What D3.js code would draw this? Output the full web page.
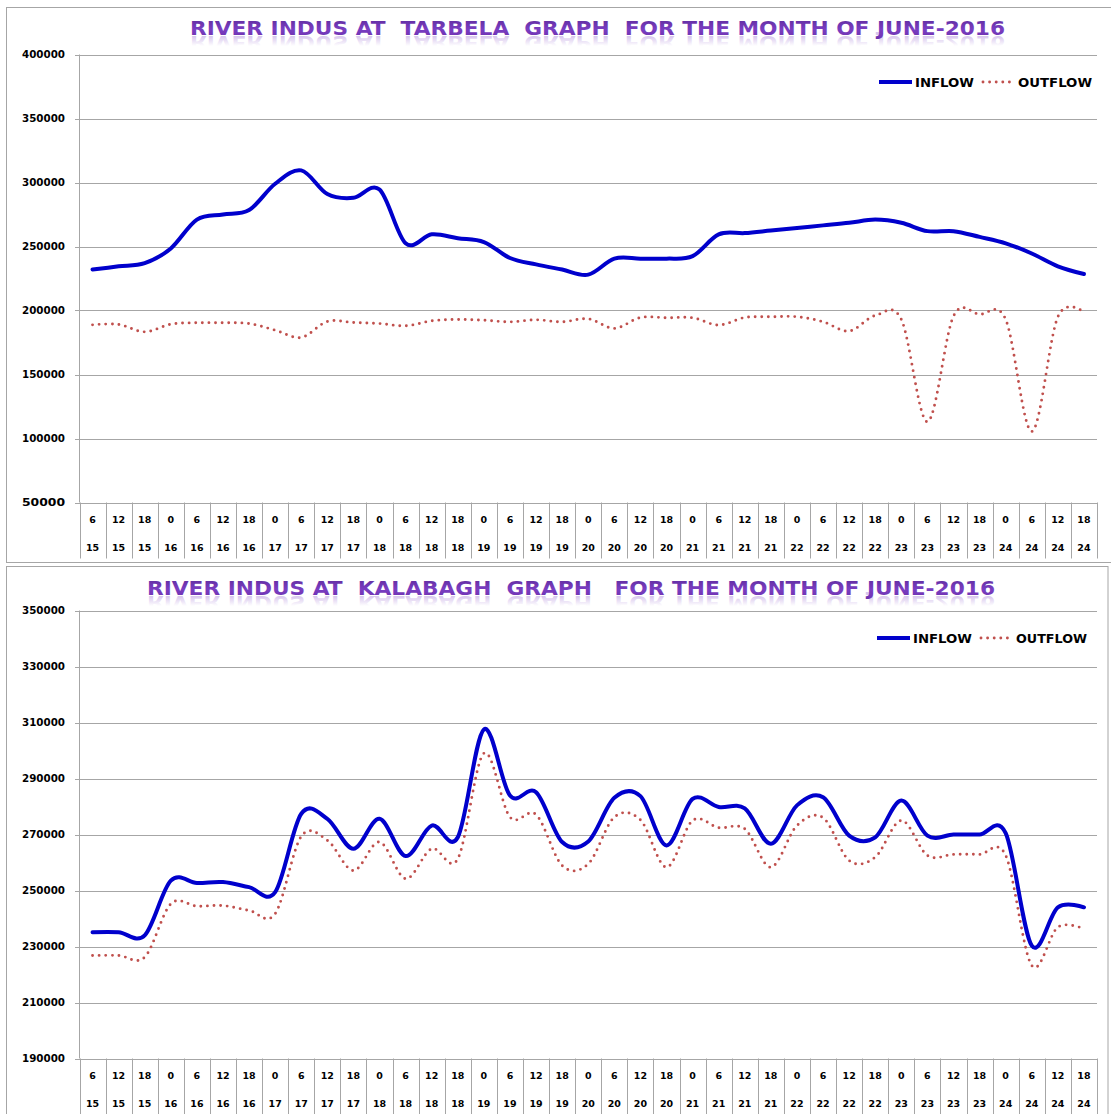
<!DOCTYPE html>
<html>
<head>
<meta charset="utf-8">
<script src="https://d3js.org/d3.v7.min.js"></script>
<style>
    body { margin: 0; background: #ffffff; }
    svg { display: block; }
    text { font-family: "DejaVu Sans", sans-serif; font-weight: bold; }
</style>
</head>
<body>
<div id="chart"></div>
<script>
// x axis labels (hour / day of June 2016)
const hours = [6, 12, 18, 0, 6, 12, 18, 0, 6, 12, 18, 0, 6, 12, 18, 0, 6, 12, 18, 0,
    6, 12, 18, 0, 6, 12, 18, 0, 6, 12, 18, 0, 6, 12, 18, 0, 6, 12, 18];
const days = [15, 15, 15, 16, 16, 16, 16, 17, 17, 17, 17, 18, 18, 18, 18, 19, 19, 19, 19, 20,
    20, 20, 20, 21, 21, 21, 21, 22, 22, 22, 22, 23, 23, 23, 23, 24, 24, 24, 24];

// tarbela (cusecs)
const tarbelaTicks = [50000, 100000, 150000, 200000, 250000, 300000, 350000, 400000];
const tarbelaInflow = [232000, 234500, 237000, 248500, 271000, 275000, 278500, 299000, 309500, 291000,
    288000, 294500, 252500, 259500, 256500, 253500, 241000, 236000, 232000, 228000,
    240500, 240500, 240500, 242500, 259500, 260500, 262500, 264500, 266500, 268500,
    271000, 268500, 262000, 262000, 257500, 252500, 244500, 234500, 228500];
const tarbelaOutflow = [188800, 189100, 183300, 189300, 190400, 190400, 189800, 184600, 178900, 191400,
    190600, 189800, 188000, 191900, 193000, 192400, 191100, 192700, 191100, 193500,
    186000, 194500, 194300, 194300, 188600, 194500, 195100, 195100, 191200, 183900,
    196000, 193000, 113000, 195500, 197000, 193000, 105500, 195000, 198500];

// kalabagh (cusecs)
const kalabaghTicks = [190000, 210000, 230000, 250000, 270000, 290000, 310000, 330000, 350000];
const kalabaghInflow = [235100, 235100, 234000, 253500, 252700, 253000, 251200, 249400, 277400, 275600,
    264900, 275600, 262300, 273200, 269000, 307500, 283900, 285100, 267300, 267500,
    283100, 283700, 266100, 282700, 279800, 279300, 266700, 280400, 283300, 269600,
    269000, 282100, 269600, 270000, 270000, 270500, 230300, 244000, 244000];
const kalabaghOutflow = [226800, 226800, 226200, 245200, 244400, 244600, 242900, 241700, 269300, 267900,
    257100, 267300, 254200, 264900, 261300, 299000, 276200, 277100, 258900, 259500,
    276200, 275200, 258300, 275000, 272400, 272000, 258300, 273200, 276000, 260700,
    261900, 275000, 262500, 262900, 262900, 262500, 223200, 236900, 236300];

const W = 1111, H = 1114;
const svg = d3.select("#chart").append("svg")
    .attr("width", W)
    .attr("height", H);
const defs = svg.append("defs");

const titleGrad = defs.append("linearGradient")
    .attr("id", "titleGrad")
    .attr("x1", 0).attr("y1", 0).attr("x2", 0).attr("y2", 1);
titleGrad.append("stop").attr("offset", "0%").attr("stop-color", "#5a2896");
titleGrad.append("stop").attr("offset", "55%").attr("stop-color", "#7a3ec2");
titleGrad.append("stop").attr("offset", "100%").attr("stop-color", "#6a2eaa");

function drawChart(cfg, idx) {
    const g = svg.append("g");

    // panel border
    g.append("rect")
        .attr("x", cfg.panel[0]).attr("y", cfg.panel[1])
        .attr("width", cfg.panel[2]).attr("height", cfg.panel[3])
        .attr("fill", "#ffffff")
        .attr("stroke", "#a6a6a6")
        .attr("stroke-width", 1);

    const x = d3.scaleBand()
        .domain(d3.range(hours.length))
        .range([79.5, 1097])
        .paddingInner(0);

    const y = d3.scaleLinear()
        .domain(cfg.domain)
        .range(cfg.range);

    // gridlines
    g.selectAll(".grid")
        .data(cfg.ticks)
        .join("line")
        .attr("x1", 75).attr("x2", 1097)
        .attr("y1", d => Math.round(y(d)) + 0.5)
        .attr("y2", d => Math.round(y(d)) + 0.5)
        .attr("stroke", "#a6a6a6")
        .attr("stroke-width", 1);

    // y axis line
    g.append("line")
        .attr("x1", 79.5).attr("x2", 79.5)
        .attr("y1", y(cfg.domain[1])).attr("y2", y(cfg.domain[0]))
        .attr("stroke", "#a6a6a6");

    g.selectAll(".ylab")
        .data(cfg.ticks)
        .join("text")
        .attr("x", 65)
        .attr("y", d => y(d))
        .attr("dy", "0.36em")
        .attr("text-anchor", "end")
        .attr("font-size", 10)
        .attr("textLength", 43)
        .attr("lengthAdjust", "spacingAndGlyphs")
        .attr("fill", "#000")
        .text(d => d3.format("d")(d));

    // category table under the plot
    const axisY = y(cfg.domain[0]);
    const bounds = d3.range(hours.length + 1).map(i => i < hours.length ? x(i) : x(i - 1) + x.bandwidth());
    g.selectAll(".sep")
        .data(bounds)
        .join("line")
        .attr("x1", d => Math.round(d) + 0.5).attr("x2", d => Math.round(d) + 0.5)
        .attr("y1", axisY).attr("y2", axisY + cfg.tableH)
        .attr("stroke", "#a6a6a6");

    const labelRow = function (arr, off) {
        g.selectAll(null)
            .data(arr)
            .join("text")
            .attr("x", (d, i) => x(i) + x.bandwidth() / 2)
            .attr("y", axisY + off)
            .attr("dy", "0.36em")
            .attr("text-anchor", "middle")
            .attr("font-size", 8.5)
            .attr("textLength", d => String(d).length * 6.6)
            .attr("lengthAdjust", "spacingAndGlyphs")
            .attr("fill", "#000")
            .text(d => d);
    };
    labelRow(hours, 17);
    labelRow(days, 45);

    // lines
    const line = d3.line()
        .x((d, i) => x(i) + x.bandwidth() / 2)
        .y(d => y(d))
        .curve(d3.curveCardinal.tension(0));

    g.append("path")
        .datum(cfg.outflow)
        .attr("d", line)
        .attr("fill", "none")
        .attr("stroke", "#c0504d")
        .attr("stroke-width", 2.9)
        .attr("stroke-linecap", "round")
        .attr("stroke-dasharray", "0 6.6");

    g.append("path")
        .datum(cfg.inflow)
        .attr("d", line)
        .attr("fill", "none")
        .attr("stroke", "#0000cc")
        .attr("stroke-width", 4)
        .attr("stroke-linecap", "round")
        .attr("stroke-linejoin", "round");

    // title, with a faded mirror copy below it
    const tb = cfg.title.baseline;
    const refl = defs.append("linearGradient")
        .attr("id", "refl" + idx)
        .attr("gradientUnits", "userSpaceOnUse")
        .attr("x1", 0).attr("y1", tb).attr("x2", 0).attr("y2", tb - 10);
    refl.append("stop").attr("offset", "0%").attr("stop-color", "#7a3ec2").attr("stop-opacity", 0.3);
    refl.append("stop").attr("offset", "100%").attr("stop-color", "#7a3ec2").attr("stop-opacity", 0);

    const tg = g.append("g").attr("fill", "url(#titleGrad)");
    tg.append("text")
        .attr("id", "title" + idx)
        .attr("x", cfg.title.x)
        .attr("y", tb)
        .attr("font-size", 20)
        .attr("textLength", cfg.title.w)
        .attr("lengthAdjust", "spacingAndGlyphs")
        .style("white-space", "pre")
        .text(cfg.title.text);

    g.append("use")
        .attr("href", "#title" + idx)
        .attr("transform", `translate(0, ${2 * tb + 1}) scale(1, -1)`)
        .attr("fill", `url(#refl${idx})`);

    // legend
    const lg = cfg.legend;
    g.append("line")
        .attr("x1", lg.x).attr("x2", lg.x + 33)
        .attr("y1", lg.y).attr("y2", lg.y)
        .attr("stroke", "#0000cc").attr("stroke-width", 4);
    g.append("text")
        .attr("x", lg.x + 36).attr("y", lg.y + 4.5)
        .attr("font-size", 12)
        .attr("textLength", 59)
        .attr("lengthAdjust", "spacingAndGlyphs")
        .attr("fill", "#000")
        .text("INFLOW");
    g.append("line")
        .attr("x1", lg.x + 104).attr("x2", lg.x + 134)
        .attr("y1", lg.y).attr("y2", lg.y)
        .attr("stroke", "#c0504d").attr("stroke-width", 2.9)
        .attr("stroke-linecap", "round")
        .attr("stroke-dasharray", "0 6.6");
    g.append("text")
        .attr("x", lg.x + 139).attr("y", lg.y + 4.5)
        .attr("font-size", 12)
        .attr("textLength", lg.w2)
        .attr("lengthAdjust", "spacingAndGlyphs")
        .attr("fill", "#000")
        .text("OUTFLOW");
}

drawChart({
    panel: [6.5, 7.5, 1120, 555],
    domain: [50000, 400000],
    range: [502.5, 54.5],
    ticks: tarbelaTicks,
    tableH: 56,
    inflow: tarbelaInflow,
    outflow: tarbelaOutflow,
    title: {text: "RIVER INDUS AT  TARBELA  GRAPH  FOR THE MONTH OF JUNE-2016", x: 190, baseline: 35, w: 815},
    legend: {x: 879, y: 82, w2: 74}
}, 0);

drawChart({
    panel: [6.5, 566.5, 1101.5, 560],
    domain: [190000, 350000],
    range: [1058.5, 610.5],
    ticks: kalabaghTicks,
    tableH: 60,
    inflow: kalabaghInflow,
    outflow: kalabaghOutflow,
    title: {text: "RIVER INDUS AT  KALABAGH  GRAPH   FOR THE MONTH OF JUNE-2016", x: 147, baseline: 595, w: 848},
    legend: {x: 877, y: 638, w2: 71}
}, 1);
</script>
</body>
</html>
